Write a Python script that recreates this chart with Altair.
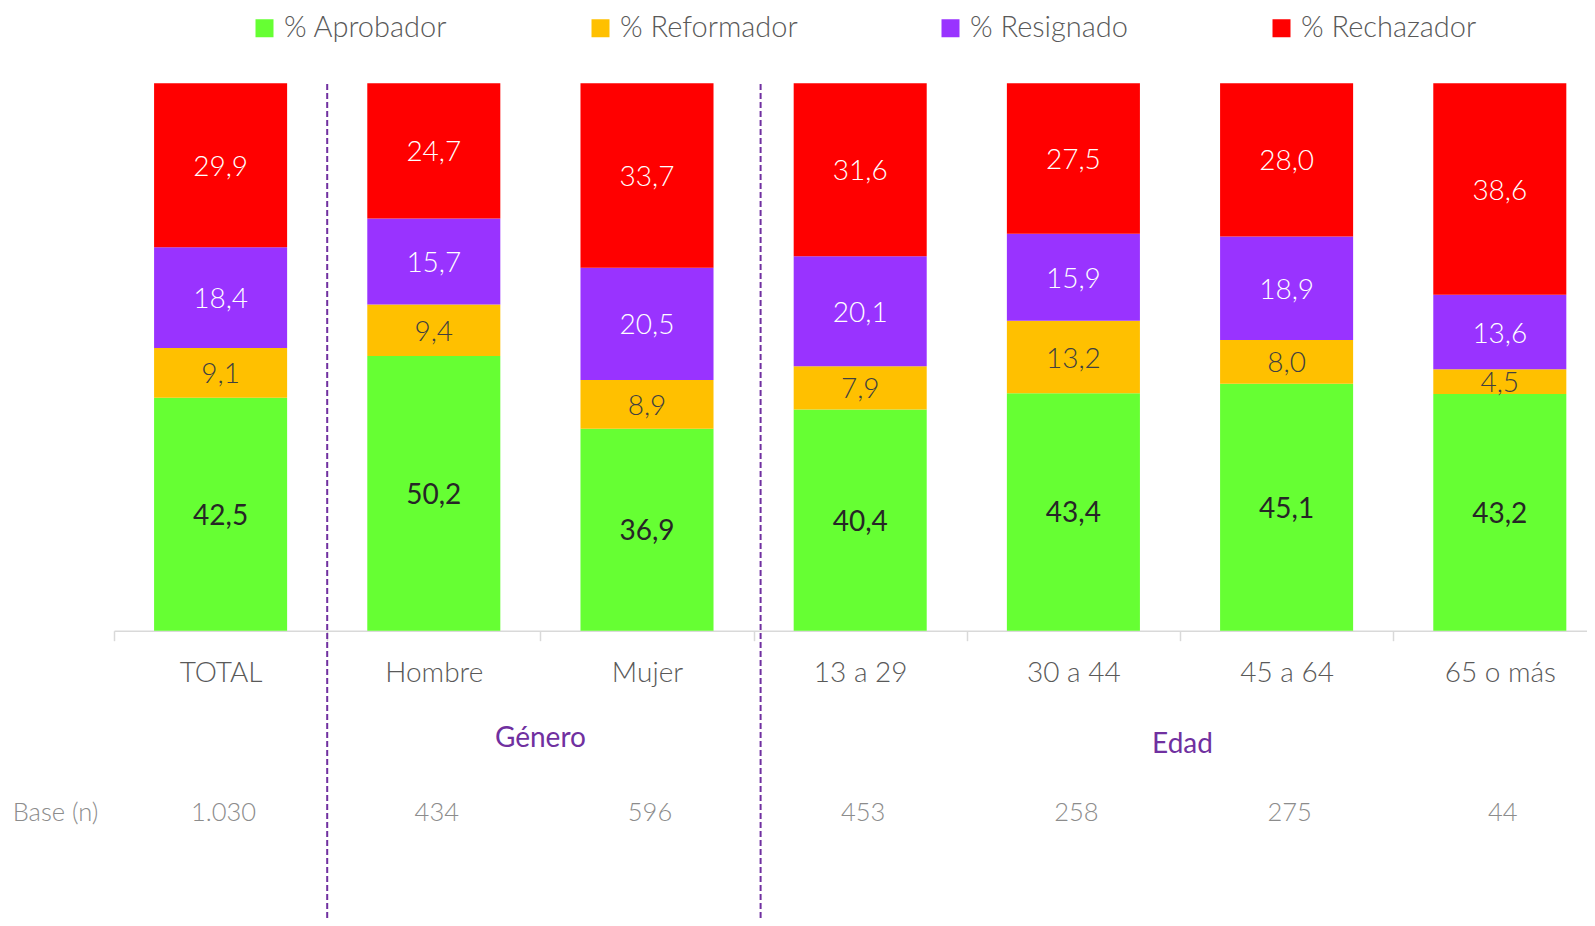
import altair as alt
import pandas as pd

categories = ["TOTAL", "Hombre", "Mujer", "13 a 29", "30 a 44", "45 a 64", "65 o más"]
series = ["% Aprobador", "% Reformador", "% Resignado", "% Rechazador"]
aprobador = [42.5, 50.2, 36.9, 40.4, 43.4, 45.1, 43.2]
reformador = [9.1, 9.4, 8.9, 7.9, 13.2, 8.0, 4.5]
resignado = [18.4, 15.7, 20.5, 20.1, 15.9, 18.9, 13.6]
rechazador = [29.9, 24.7, 33.7, 31.6, 27.5, 28.0, 38.6]
base_n = ["1.030", "434", "596", "453", "258", "275", "44"]
colors = ["#66FF33", "#FFC000", "#9933FF", "#FF0000"]

rows = []
for s_i, (s, vals) in enumerate(zip(series, [aprobador, reformador, resignado, rechazador])):
    for c, v in zip(categories, vals):
        rows.append({"cat": c, "serie": s, "order": s_i, "value": v,
                     "label": f"{v:.1f}".replace(".", ",")})
df = pd.DataFrame(rows)
base_df = pd.DataFrame({"cat": categories, "n": base_n})

FONT = "Lato"
X0, STEP = 106, 213.2
xscale = alt.Scale(domain=categories, range=[X0, X0 + STEP * len(categories)],
                   paddingInner=0, paddingOuter=0)
yscale = alt.Scale(domain=[0, 1], range=[622.7, 75.3])

xaxis = alt.Axis(title=None, labelAngle=0, labelFont=FONT, labelFontSize=28,
                 labelColor="#595959", labelFontWeight=300, labelBaseline="middle",
                 labelPadding=33, tickBand="extent", tickSize=10, tickColor="#d9d9d9",
                 tickWidth=1.5, domainColor="#d9d9d9", domainWidth=1.5)

base = alt.Chart(df).transform_stack(
    stack="value", groupby=["cat"], as_=["y0", "y1"], offset="normalize",
    sort=[alt.SortField("order", "ascending")]
).transform_calculate(mid="(datum.y0 + datum.y1) / 2")

bars = base.mark_bar(width=alt.RelativeBandSize(0.624)).encode(
    x=alt.X("cat:N", scale=xscale, axis=xaxis),
    y=alt.Y("y0:Q", scale=yscale, axis=None),
    y2="y1:Q",
    color=alt.Color("serie:N", scale=alt.Scale(domain=series, range=colors),
                    legend=alt.Legend(title=None, orient="none", legendX=242, legendY=5.5,
                                      direction="horizontal", columns=4, columnPadding=138,
                                      labelFont=FONT, labelFontSize=29, labelColor="#595959",
                                      labelFontWeight=300, symbolType="square", symbolSize=324,
                                      symbolStrokeWidth=0, labelOffset=5, labelLimit=400,
                                      padding=0)),
)

def seg_labels(cond, color, weight):
    return base.transform_filter(cond).mark_text(
        font=FONT, fontSize=28, color=color, fontWeight=weight, baseline="middle",
        align="center", dy=2.5
    ).encode(
        x=alt.X("cat:N", scale=xscale),
        y=alt.Y("mid:Q", scale=yscale),
        text="label:N",
    )

lab_ap = seg_labels(alt.datum.serie == series[0], "#262626", 400)
lab_rf = seg_labels(alt.datum.serie == series[1], "#404040", 300)
lab_wh = seg_labels((alt.datum.serie == series[2]) | (alt.datum.serie == series[3]), "#ffffff", 300)

rule_style = dict(strokeDash=[6, 3], color="#7030A0", strokeWidth=2)
rule1 = alt.Chart(pd.DataFrame({"cat": ["TOTAL"]})).mark_rule(**rule_style).encode(
    x=alt.X("cat:N", scale=xscale, bandPosition=1), y=alt.value(76), y2=alt.value(918))
rule2 = alt.Chart(pd.DataFrame({"cat": ["Mujer"]})).mark_rule(xOffset=7, **rule_style).encode(
    x=alt.X("cat:N", scale=xscale, bandPosition=1), y=alt.value(76), y2=alt.value(918))

grp_style = dict(font=FONT, fontSize=28, color="#7030A0", baseline="middle", align="center")
genero = alt.Chart(pd.DataFrame({"cat": ["Hombre"], "t": ["Género"]})).mark_text(**grp_style).encode(
    x=alt.X("cat:N", scale=xscale, bandPosition=1), y=alt.value(730.5), text="t:N")
edad = alt.Chart(pd.DataFrame({"cat": ["30 a 44"], "t": ["Edad"]})).mark_text(dx=2.5, **grp_style).encode(
    x=alt.X("cat:N", scale=xscale, bandPosition=1), y=alt.value(737.3), text="t:N")

base_lbl = alt.Chart(pd.DataFrame({"t": ["Base (n)"]})).mark_text(
    font=FONT, fontSize=25.5, color="#8c8c8c", fontWeight=300, baseline="middle", align="left"
).encode(x=alt.value(4.7), y=alt.value(805), text="t:N")
base_vals = alt.Chart(base_df).mark_text(
    font=FONT, fontSize=25.5, color="#8c8c8c", fontWeight=300, baseline="middle", align="center", dx=3
).encode(x=alt.X("cat:N", scale=xscale), y=alt.value(805), text="n:N")

chart = alt.layer(
    bars, lab_ap, lab_rf, lab_wh, rule1, rule2, genero, edad, base_lbl, base_vals
).properties(
    width=1579, height=622.7,
    padding={"left": 0, "top": 0, "right": 0, "bottom": 287.3},
    autosize=alt.AutoSizeParams(type="none"),
).configure(font=FONT).configure_view(stroke=None)

chart.save("out.html", embed_options={"renderer": "svg", "actions": False})
